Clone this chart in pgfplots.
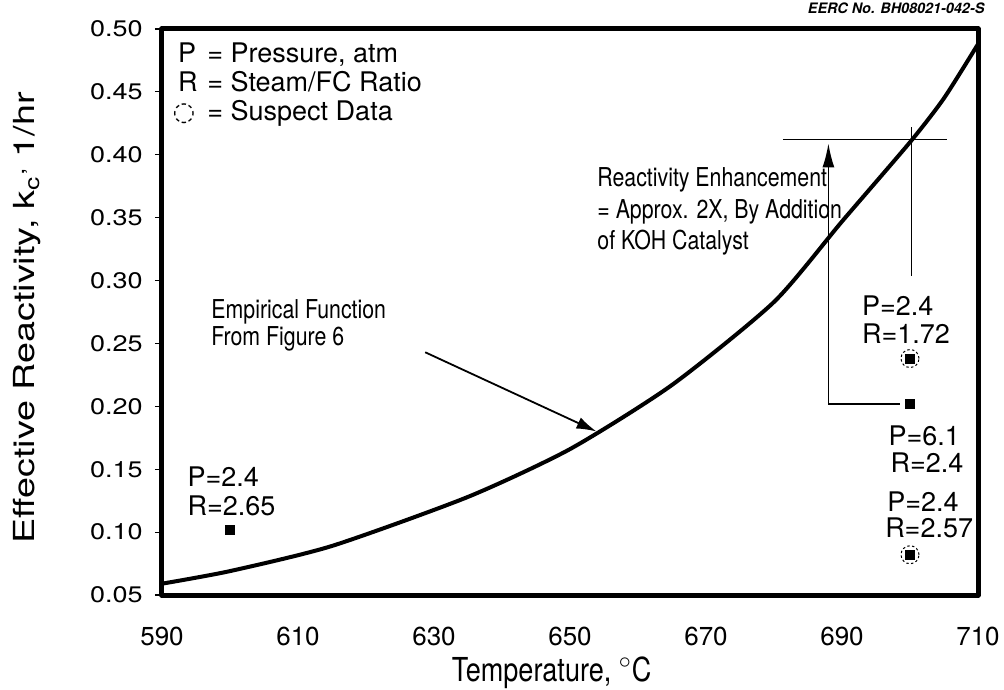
\documentclass[border=0pt]{standalone}
\usepackage{fontspec}
\setmainfont{TeX Gyre Heros}
\newfontfamily\condf[FakeStretch=0.82]{TeX Gyre Heros}
\newfontfamily\widef[FakeStretch=1.2]{TeX Gyre Heros}
\newfontfamily\widerf[FakeStretch=1.3]{TeX Gyre Heros}
\newfontfamily\dejavu{DejaVu Sans}
\usepackage{pgfplots}
\pgfplotsset{compat=1.18}
\usetikzlibrary{arrows.meta}

\begin{document}
\begin{tikzpicture}
\begin{axis}[
  name=ax,
  width=408pt, height=283pt, scale only axis,
  xmin=590, xmax=710, ymin=0.05, ymax=0.50,
  clip=false,
  axis line style={line width=2.5pt, line cap=round, line join=round},
  xtick={590,610,630,650,670,690,710},
  xticklabels={590,610,630,650,670,690,710},
  ytick={0.05,0.10,0.15,0.20,0.25,0.30,0.35,0.40,0.45,0.50},
  yticklabels={0.05,0.10,0.15,0.20,0.25,0.30,0.35,0.40,0.45,0.50},
  xtick pos=bottom, ytick pos=left,
  tick align=outside,
  major tick length=3.5pt,
  xtick style={draw=none},
  ytick style={line width=0.6pt, black},
  xticklabel style={font=\fontsize{13}{13}\selectfont, anchor=base, inner sep=0pt, yshift=-21.5pt},
  yticklabel style={font=\widef\fontsize{11.25}{13}\selectfont, anchor=east, inner sep=0pt, xshift=-6pt},
]
% empirical function
\addplot[line width=2pt, smooth, tension=0.4] coordinates {
  (590,0.059) (600,0.069) (615,0.089) (635,0.128) (650,0.166) (665,0.217)
  (680,0.283) (690,0.347) (700,0.410) (705,0.445) (710,0.488)};
% data points
\addplot[only marks, mark=square*, mark size=2.2pt] coordinates {
  (600,0.102) (700,0.238) (700,0.202) (700,0.082)};
% suspect data circles
\addplot[only marks, mark=o, mark size=4.5pt,
  mark options={dash pattern=on 1.2pt off 1.2pt, line width=0.5pt}] coordinates {
  (700,0.238) (700,0.082)};

% legend-like text box
\node[anchor=base west, inner sep=0pt, font=\fontsize{13.5}{15}\selectfont] at (axis cs:592.3,0.4737) {P};
\node[anchor=base west, inner sep=0pt, font=\fontsize{13.5}{15}\selectfont] at (axis cs:596.62,0.4737) {= Pressure, atm};
\node[anchor=base west, inner sep=0pt, font=\fontsize{13.5}{15}\selectfont] at (axis cs:592.3,0.4507) {R};
\node[anchor=base west, inner sep=0pt, font=\fontsize{13.5}{15}\selectfont] at (axis cs:596.62,0.4507) {= Steam/FC Ratio};
\node[anchor=base west, inner sep=0pt, font=\dejavu\fontsize{13}{15}\selectfont] at (axis cs:591.5,0.4276) {◌};
\node[anchor=base west, inner sep=0pt, font=\fontsize{13.5}{15}\selectfont] at (axis cs:596.62,0.4276) {= Suspect Data};

% annotations
\node[anchor=base west, inner sep=0pt, font=\condf\fontsize{13}{15}\selectfont] at (axis cs:653.97,0.3744) {Reactivity Enhancement};
\node[anchor=base west, inner sep=0pt, font=\condf\fontsize{13}{15}\selectfont] at (axis cs:653.97,0.3497) {= Approx. 2X, By Addition};
\node[anchor=base west, inner sep=0pt, font=\condf\fontsize{13}{15}\selectfont] at (axis cs:653.97,0.3243) {of KOH Catalyst};
\node[anchor=base west, inner sep=0pt, font=\condf\fontsize{13}{15}\selectfont] at (axis cs:597.2,0.2702) {Empirical Function};
\node[anchor=base west, inner sep=0pt, font=\condf\fontsize{13}{15}\selectfont] at (axis cs:597.2,0.2480) {From Figure 6};

% point labels
\node[anchor=base west, inner sep=0pt, font=\fontsize{13.5}{16}\selectfont] at (axis cs:593.7,0.1359) {P=2.4};
\node[anchor=base west, inner sep=0pt, font=\fontsize{13.5}{16}\selectfont] at (axis cs:593.7,0.1136) {R=2.65};
\node[anchor=base west, inner sep=0pt, font=\fontsize{13.5}{16}\selectfont] at (axis cs:692.9,0.2726) {P=2.4};
\node[anchor=base west, inner sep=0pt, font=\fontsize{13.5}{16}\selectfont] at (axis cs:692.9,0.2503) {R=1.72};
\node[anchor=base west, inner sep=0pt, font=\fontsize{13.5}{16}\selectfont] at (axis cs:696.8,0.1685) {P=6.1};
\node[anchor=base west, inner sep=0pt, font=\fontsize{13.5}{16}\selectfont] at (axis cs:697.1,0.1475) {R=2.4};
\node[anchor=base west, inner sep=0pt, font=\fontsize{13.5}{16}\selectfont] at (axis cs:696.6,0.1165) {P=2.4};
\node[anchor=base west, inner sep=0pt, font=\fontsize{13.5}{16}\selectfont] at (axis cs:696.3,0.0955) {R=2.57};

% arrows and guide lines
\draw[line width=0.9pt, -{Latex[length=10pt,width=6pt]}] (axis cs:628.7,0.243) -- (axis cs:653.9,0.180);
\draw[line width=0.75pt, -{Latex[length=12pt,width=6pt]}] (axis cs:698.5,0.202) -- (axis cs:688,0.202) -- (axis cs:688,0.409);
\draw[line width=0.75pt] (axis cs:681.3,0.412) -- (axis cs:705.5,0.412);
\draw[line width=0.75pt] (axis cs:700.2,0.422) -- (axis cs:700.2,0.304);

% figure number
\node[anchor=base east, inner sep=0pt, font=\bfseries\itshape\fontsize{7.2}{9}\selectfont] at (axis cs:711.0,0.512) {EERC No. BH08021-042-S};
\end{axis}

\node[rotate=90, anchor=base, inner sep=0pt, font=\widerf\fontsize{14.5}{17}\selectfont]
  at ([xshift=-63.5pt, yshift=-3pt]ax.west) {Effective Reactivity, k\textsubscript{c}\textsuperscript{,} 1/hr};
\node[anchor=base, inner sep=0pt, font=\condf\fontsize{16.5}{20}\selectfont]
  at ([xshift=194.8pt, yshift=-43pt]ax.south west) {Temperature, $^{\circ}$C};

\pgfresetboundingbox
\path[use as bounding box] ([shift={(-81pt,-47pt)}]ax.south west) rectangle ([shift={(13pt,14.5pt)}]ax.north east);
\end{tikzpicture}
\end{document}
